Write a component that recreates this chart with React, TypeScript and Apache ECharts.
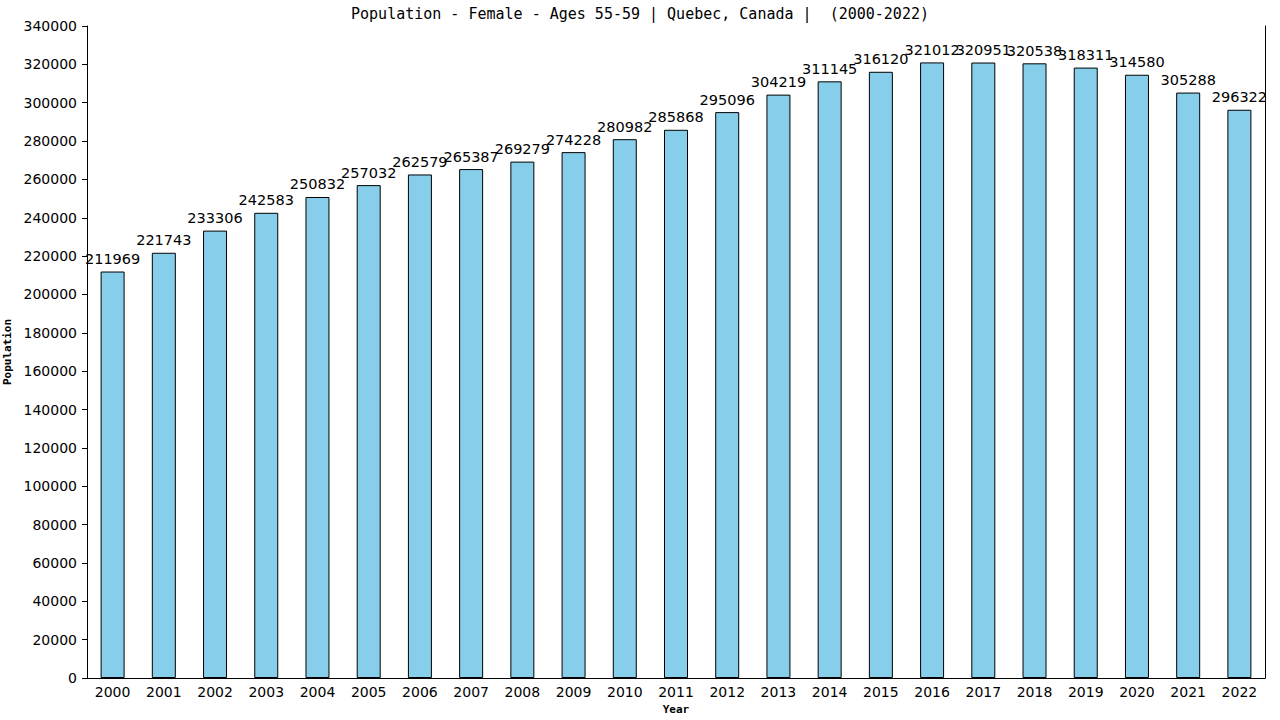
import React, { useEffect, useRef } from "react";
import * as echarts from "echarts";

const years = ["2000","2001","2002","2003","2004","2005","2006","2007","2008","2009","2010","2011","2012","2013","2014","2015","2016","2017","2018","2019","2020","2021","2022"];
const population = [211969,221743,233306,242583,250832,257032,262579,265387,269279,274228,280982,285868,295096,304219,311145,316120,321012,320951,320538,318311,314580,305288,296322];
const titleText = "Population - Female - Ages 55-59 | Quebec, Canada |  (2000-2022)";
const yMin = 0;
const yMax = 340000;
const yStep = 20000;

export default function App() {
  const ref = useRef<HTMLDivElement>(null);
  useEffect(() => {
    if (!ref.current) return;
    const chart = echarts.init(ref.current, undefined, { renderer: "svg" });
    chart.setOption({
      animation: false,
      backgroundColor: "#ffffff",
      title: {
        text: titleText,
        left: "center",
        top: 1,
        textStyle: { fontFamily: "DejaVu Sans Mono", fontSize: 15, fontWeight: "normal", color: "#000" },
      },
      grid: { left: 87, right: 15, top: 26, bottom: 42, containLabel: false, outerBoundsMode: "none" },
      xAxis: {
        type: "category",
        data: years,
        name: "Year",
        nameLocation: "middle",
        nameGap: 26,
        nameTextStyle: { fontFamily: "DejaVu Sans Mono", fontWeight: "bold", fontSize: 11, color: "#000" },
        axisLine: { lineStyle: { color: "#000", width: 1 } },
        axisTick: { show: false },
        axisLabel: { margin: 7, color: "#000", fontFamily: "DejaVu Sans", fontSize: 14 },
      },
      yAxis: [
        {
          type: "value",
          min: yMin,
          max: yMax,
          interval: yStep,
          name: "Population",
          nameLocation: "middle",
          nameGap: 69,
          nameTextStyle: { fontFamily: "DejaVu Sans Mono", fontWeight: "bold", fontSize: 11, color: "#000" },
          axisLine: { show: true, lineStyle: { color: "#000", width: 1 } },
          axisTick: { show: true, length: 5, lineStyle: { color: "#000" } },
          axisLabel: { margin: 10, color: "#000", fontFamily: "DejaVu Sans", fontSize: 14, formatter: (v: number) => String(v) },
          splitLine: { show: false },
        },
        {
          type: "value",
          min: yMin,
          max: yMax,
          interval: yStep,
          position: "right",
          axisLine: { show: true, lineStyle: { color: "#000", width: 1 } },
          axisTick: { show: false },
          axisLabel: { show: false },
          splitLine: { show: false },
        },
      ],
      series: [
        {
          type: "bar",
          data: population,
          barWidth: 24,
          itemStyle: { color: "#87CEEB", borderColor: "#000", borderWidth: 1 },
          label: {
            show: true,
            position: "top",
            distance: 5,
            color: "#000",
            fontFamily: "DejaVu Sans",
            fontSize: 14.5,
          },
        },
      ],
    });
    return () => chart.dispose();
  }, []);
  return <div ref={ref} style={{ position: "fixed", left: 0, top: 0, width: 1280, height: 720 }} />;
}
